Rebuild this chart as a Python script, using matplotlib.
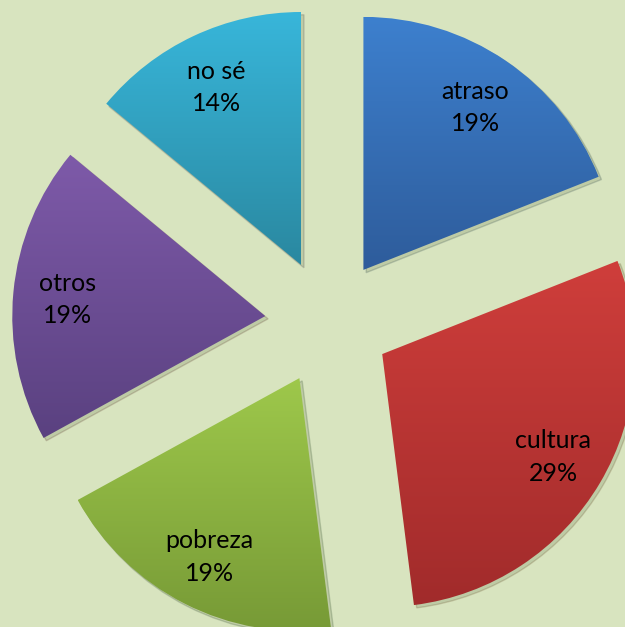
import numpy as np
import matplotlib.pyplot as plt
import matplotlib.patches as mpatches
from matplotlib.colors import to_rgb

labels = ['atraso', 'cultura', 'pobreza', 'otros', 'no sé']
values = [19, 29, 19, 19, 14]
top_colors = ['#3d80ce', '#cf3e3b', '#9ec84b', '#7e5aa9', '#38b6da']
bottom_colors = ['#2e5c9b', '#a12b2b', '#779a36', '#5a4180', '#2a88a0']
bg = '#d8e4bf'

fig = plt.figure(figsize=(6.25, 6.27), dpi=100)
fig.patch.set_facecolor(bg)
ax = fig.add_axes([0, 0, 1, 1])
ax.set_facecolor(bg)

wedges, _ = ax.pie(values, radius=253, center=(328, 305), explode=[63] * 5,
                   startangle=90, counterclock=False)

for w, name, v, c0, c1 in zip(wedges, labels, values, top_colors, bottom_colors):
    # soft drop shadow
    sh = mpatches.Shadow(w, 2, -2, alpha=0.18)
    sh.set_facecolor('#4a5a30')
    sh.set_zorder(0.5)
    ax.add_patch(sh)

    # vertical gradient clipped to the wedge
    x0, y0, x1, y1 = w.get_path().get_extents().extents
    a = np.array(to_rgb(c0))
    b = np.array(to_rgb(c1))
    t = np.linspace(0, 1, 256)[:, None]
    grad = (a * (1 - t) + b * t)[:, None, :]
    im = ax.imshow(grad, extent=(x0, x1, y0, y1), origin='upper',
                   aspect='auto', zorder=1, interpolation='bilinear')
    im.set_clip_path(w)
    w.set_facecolor('none')
    w.set_edgecolor('none')

    ang = np.deg2rad((w.theta1 + w.theta2) / 2)
    cx, cy = w.center
    d = 0.785 * w.r
    ax.text(cx + d * np.cos(ang), cy + d * np.sin(ang) - 2, f'{name}\n{v}%',
            ha='center', va='center', fontsize=18, family='Lato',
            linespacing=1.5, color='black', zorder=3)

ax.set_xlim(0, 625)
ax.set_ylim(0, 627)
ax.set_aspect('auto')
ax.axis('off')

plt.savefig('out.png', dpi=100, facecolor=bg)
plt.close()
